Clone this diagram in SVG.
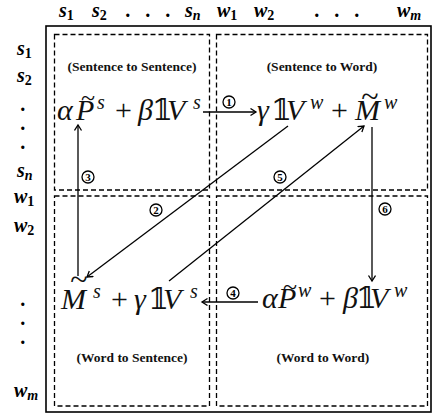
<svg xmlns="http://www.w3.org/2000/svg" width="434" height="416" viewBox="0 0 434 416">
<style>
.hdr{font-family:"Liberation Serif",serif;font-weight:bold;font-style:italic;font-size:20px;fill:#000}
.sb{font-size:14px;font-style:normal}
.si{font-size:14px}
.math{font-family:"Liberation Serif","DejaVu Serif",serif;font-style:italic;font-size:30px;fill:#111}
.up{font-style:normal}
.sup{font-size:20px}
.til{font-family:"Liberation Serif",serif;font-size:26px;fill:#111;text-anchor:middle}
.tilw{font-size:32px}
.lab{font-family:"Liberation Serif",serif;font-weight:bold;font-size:13.5px;text-anchor:middle;fill:#111}
.dash{fill:none;stroke:#000;stroke-width:1.3;stroke-dasharray:5,3}
.conn line{stroke:#000;stroke-width:1.3;marker-end:url(#arr)}
.num circle{fill:#fff;stroke:#000;stroke-width:1.3}
.num text{font-family:"Liberation Serif",serif;font-weight:bold;font-size:11px;text-anchor:middle;fill:#000}
</style>
<defs>
<marker id="arr" markerUnits="userSpaceOnUse" markerWidth="10" markerHeight="10" refX="6" refY="4" orient="auto">
<path d="M0.5,0.5 L6,4 L0.5,7.5" fill="none" stroke="#000" stroke-width="1.3"/>
</marker>
</defs>
<rect width="434" height="416" fill="#fff"/>

<g id="headers">
<text class="hdr" y="17"><tspan x="59">s</tspan><tspan class="sb" dy="3">1</tspan><tspan x="92" dy="-3">s</tspan><tspan class="sb" dy="3">2</tspan><tspan x="126" dy="-3">.</tspan><tspan x="146">.</tspan><tspan x="166">.</tspan><tspan x="185">s</tspan><tspan class="si" dy="3">n</tspan><tspan x="217" dy="-3">w</tspan><tspan class="sb" dy="3">1</tspan><tspan x="254" dy="-3">w</tspan><tspan class="sb" dy="3">2</tspan><tspan x="315" dy="-3">.</tspan><tspan x="335">.</tspan><tspan x="355">.</tspan><tspan x="397">w</tspan><tspan class="si" dy="3">m</tspan></text>
<text class="hdr"><tspan x="17" y="55">s</tspan><tspan class="sb" dy="3">1</tspan><tspan x="17" y="82">s</tspan><tspan class="sb" dy="3">2</tspan><tspan x="21" y="111">.</tspan><tspan x="21" y="130">.</tspan><tspan x="21" y="149">.</tspan><tspan x="17" y="177">s</tspan><tspan class="si" dy="3">n</tspan><tspan x="14" y="203">w</tspan><tspan class="sb" dy="3">1</tspan><tspan x="14" y="232">w</tspan><tspan class="sb" dy="3">2</tspan><tspan x="21" y="306">.</tspan><tspan x="21" y="325">.</tspan><tspan x="21" y="344">.</tspan><tspan x="14" y="397">w</tspan><tspan class="si" dy="3">m</tspan></text>
</g>

<rect x="46" y="26" width="385" height="386" fill="none" stroke="#000" stroke-width="1.6"/>

<g id="ss">
<rect class="dash" x="54.5" y="34.5" width="155" height="155.5"/>
<text class="lab" x="132" y="71">(Sentence to Sentence)</text>
<text class="math" y="120"><tspan x="57">α</tspan><tspan x="76">P</tspan><tspan x="97" y="109" class="sup">s</tspan><tspan x="115" y="120" class="up">+</tspan><tspan x="138">β</tspan><tspan x="152" class="up">𝟙</tspan><tspan x="167">V</tspan><tspan x="193" y="109" class="sup">s</tspan></text>
<text class="til" x="88" y="106">~</text>
</g>

<g id="sw">
<rect class="dash" x="216.5" y="34.5" width="211" height="155.5"/>
<text class="lab" x="322" y="71">(Sentence to Word)</text>
<text class="math" y="120"><tspan x="257">γ</tspan><tspan x="271" class="up">𝟙</tspan><tspan x="286">V</tspan><tspan x="310" y="109" class="sup">w</tspan><tspan x="331" y="120" class="up">+</tspan><tspan x="355">M</tspan><tspan x="384" y="109" class="sup">w</tspan></text>
<text class="til tilw" x="370" y="107">~</text>
</g>

<g id="ws">
<rect class="dash" x="54.5" y="196" width="155" height="210"/>
<text class="lab" x="132" y="362">(Word to Sentence)</text>
<text class="math" y="309"><tspan x="61">M</tspan><tspan x="93" y="298" class="sup">s</tspan><tspan x="111" y="309" class="up">+</tspan><tspan x="134">γ</tspan><tspan x="148" class="up">𝟙</tspan><tspan x="163">V</tspan><tspan x="190" y="298" class="sup">s</tspan></text>
<text class="til tilw" x="79" y="290">~</text>
</g>

<g id="ww">
<rect class="dash" x="216.5" y="196" width="211" height="210"/>
<text class="lab" x="323" y="362">(Word to Word)</text>
<text class="math" y="308"><tspan x="262">α</tspan><tspan x="278">P</tspan><tspan x="298" y="297" class="sup">w</tspan><tspan x="319" y="308" class="up">+</tspan><tspan x="343">β</tspan><tspan x="356" class="up">𝟙</tspan><tspan x="370">V</tspan><tspan x="394" y="297" class="sup">w</tspan></text>
<text class="til" x="290" y="295">~</text>
</g>

<g id="connectors" class="conn">
<line x1="203" y1="112" x2="256" y2="112"/>
<line x1="288" y1="126" x2="87" y2="277"/>
<line x1="78" y1="276" x2="78" y2="125"/>
<line x1="258" y1="302" x2="202" y2="302"/>
<line x1="169" y1="281" x2="364" y2="126"/>
<line x1="372" y1="127" x2="372" y2="281"/>
</g>

<g id="labels" class="num">
<circle cx="229" cy="102" r="6"/><text x="229" y="106">1</text>
<circle cx="156" cy="210" r="6"/><text x="156" y="214">2</text>
<circle cx="88" cy="177" r="6"/><text x="88" y="181">3</text>
<circle cx="233" cy="293" r="6"/><text x="233" y="297">4</text>
<circle cx="280" cy="177" r="6"/><text x="280" y="181">5</text>
<circle cx="385" cy="209" r="6"/><text x="385" y="213">6</text>
</g>
</svg>
